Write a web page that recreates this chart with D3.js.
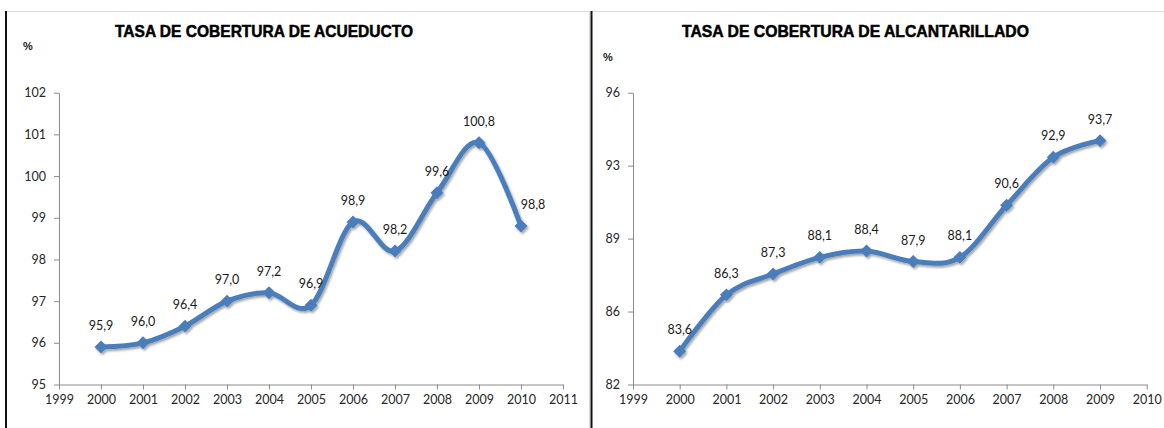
<!DOCTYPE html>
<html>
<head>
<meta charset="utf-8">
<script src="https://cdn.jsdelivr.net/npm/d3@7"></script>
<style>
  body { margin: 0; background: #fff; }
  svg { display: block; }
</style>
</head>
<body>
<svg id="chart" width="1164" height="428"></svg>
<script>
// data
const acueductoYears = [2000, 2001, 2002, 2003, 2004, 2005, 2006, 2007, 2008, 2009, 2010];
const acueductoValues = [95.9, 96.0, 96.4, 97.0, 97.2, 96.9, 98.9, 98.2, 99.6, 100.8, 98.8];
const acueductoYTicks = [95, 96, 97, 98, 99, 100, 101, 102];
const acueductoYLabels = ["95", "96", "97", "98", "99", "100", "101", "102"];
const acueductoXTicks = [1999, 2000, 2001, 2002, 2003, 2004, 2005, 2006, 2007, 2008, 2009, 2010, 2011];

const alcantarilladoYears = [2000, 2001, 2002, 2003, 2004, 2005, 2006, 2007, 2008, 2009];
const alcantarilladoValues = [83.6, 86.3, 87.3, 88.1, 88.4, 87.9, 88.1, 90.6, 92.9, 93.7];
const alcantarilladoYTicks = [82, 85.5, 89, 92.5, 96];
const alcantarilladoYLabels = ["82", "86", "89", "93", "96"];
const alcantarilladoXTicks = [1999, 2000, 2001, 2002, 2003, 2004, 2005, 2006, 2007, 2008, 2009, 2010];

const blue = "#4a7ebb";
const fmt = v => v.toFixed(1).replace(".", ",");

const svg = d3.select("#chart");

const defs = svg.append("defs");
const f = defs.append("filter").attr("id", "shadow")
  .attr("x", "-10%").attr("y", "-10%").attr("width", "120%").attr("height", "130%");
f.append("feDropShadow")
  .attr("dx", 1.5).attr("dy", 2).attr("stdDeviation", 1.3)
  .attr("flood-color", "#000").attr("flood-opacity", 0.35);

// frames
svg.append("line").attr("x1", 6).attr("x2", 1164).attr("y1", 11.5).attr("y2", 11.5)
  .attr("stroke", "#d9d9d9").attr("stroke-width", 1);
svg.append("line").attr("x1", 589.5).attr("x2", 589.5).attr("y1", 11).attr("y2", 428)
  .attr("stroke", "#d9d9d9").attr("stroke-width", 1);
svg.append("line").attr("x1", 6).attr("x2", 6).attr("y1", 11).attr("y2", 428)
  .attr("stroke", "#111").attr("stroke-width", 2);
svg.append("line").attr("x1", 591.5).attr("x2", 591.5).attr("y1", 11).attr("y2", 428)
  .attr("stroke", "#111").attr("stroke-width", 2);

const panels = [
  {
    title: "TASA DE COBERTURA DE ACUEDUCTO", titleX: 115, titleW: 298,
    pctX: 23, pctY: 50,
    years: acueductoYears, values: acueductoValues,
    xTicks: acueductoXTicks, yTicks: acueductoYTicks, yLabels: acueductoYLabels,
    x0: 59, x1: 563, xDomain: [1999, 2011], yDomain: [95, 102],
    lastLabelDx: 12
  },
  {
    title: "TASA DE COBERTURA DE ALCANTARILLADO", titleX: 682, titleW: 347,
    pctX: 603, pctY: 60.5,
    years: alcantarilladoYears, values: alcantarilladoValues,
    xTicks: alcantarilladoXTicks, yTicks: alcantarilladoYTicks, yLabels: alcantarilladoYLabels,
    x0: 633, x1: 1146.7, xDomain: [1999, 2010], yDomain: [82, 96],
    lastLabelDx: 0
  }
];

const yTop = 92.7, yBottom = 384.5;

panels.forEach(p => {
  const g = svg.append("g");
  const x = d3.scaleLinear().domain(p.xDomain).range([p.x0, p.x1]);
  const y = d3.scaleLinear().domain(p.yDomain).range([yBottom, yTop]);

  g.append("text")
    .attr("x", p.titleX).attr("y", 37)
    .attr("textLength", p.titleW).attr("lengthAdjust", "spacingAndGlyphs")
    .attr("font-family", "Liberation Sans, Arial, sans-serif")
    .attr("font-weight", "bold").attr("font-size", 16.5)
    .attr("fill", "#000").attr("stroke", "#000").attr("stroke-width", 0.5)
    .text(p.title);

  g.append("text")
    .attr("x", p.pctX).attr("y", p.pctY)
    .attr("font-family", "Liberation Sans, Arial, sans-serif")
    .attr("font-weight", "bold").attr("font-size", 11)
    .attr("fill", "#222")
    .text("%");

  const yLab = new Map(p.yTicks.map((t, i) => [t, p.yLabels[i]]));
  const yAxis = g.append("g")
    .attr("transform", `translate(${p.x0},0)`)
    .call(d3.axisLeft(y).tickValues(p.yTicks).tickSizeInner(5).tickSizeOuter(0)
      .tickPadding(8).tickFormat(d => yLab.get(d)));

  const xAxis = g.append("g")
    .attr("transform", `translate(0,${yBottom})`)
    .call(d3.axisBottom(x).tickValues(p.xTicks).tickSizeInner(5).tickSizeOuter(0)
      .tickPadding(6).tickFormat(d3.format("d")));

  [yAxis, xAxis].forEach(a => {
    a.select(".domain").attr("stroke", "#8c8c8c");
    a.selectAll(".tick line").attr("stroke", "#8c8c8c");
    a.selectAll(".tick text")
      .attr("font-family", "Lato, 'Open Sans', sans-serif")
      .attr("font-size", 12.5).attr("fill", "#262626");
  });

  const pts = p.years.map((yr, i) => ({ yr, v: p.values[i] }));

  const line = d3.line()
    .x(d => x(d.yr)).y(d => y(d.v))
    .curve(d3.curveCardinal.tension(0));

  const series = g.append("g").attr("filter", "url(#shadow)");
  series.append("path")
    .datum(pts)
    .attr("d", line)
    .attr("fill", "none")
    .attr("stroke", blue)
    .attr("stroke-width", 5)
    .attr("stroke-linejoin", "round")
    .attr("stroke-linecap", "round");

  series.selectAll("path.mark")
    .data(pts)
    .join("path")
      .attr("class", "mark")
      .attr("d", d3.symbol(d3.symbolSquare, 84))
      .attr("transform", d => `translate(${x(d.yr)},${y(d.v)}) rotate(45)`)
      .attr("fill", blue);

  g.append("g")
    .selectAll("text")
    .data(pts)
    .join("text")
      .attr("x", (d, i) => x(d.yr) + (i === pts.length - 1 ? p.lastLabelDx : 0))
      .attr("y", d => y(d.v) - 17)
      .attr("text-anchor", "middle")
      .attr("font-family", "Lato, 'Open Sans', sans-serif")
      .attr("font-size", 12.5)
      .attr("fill", "#1a1a1a")
      .text(d => fmt(d.v));
});
</script>
</body>
</html>
